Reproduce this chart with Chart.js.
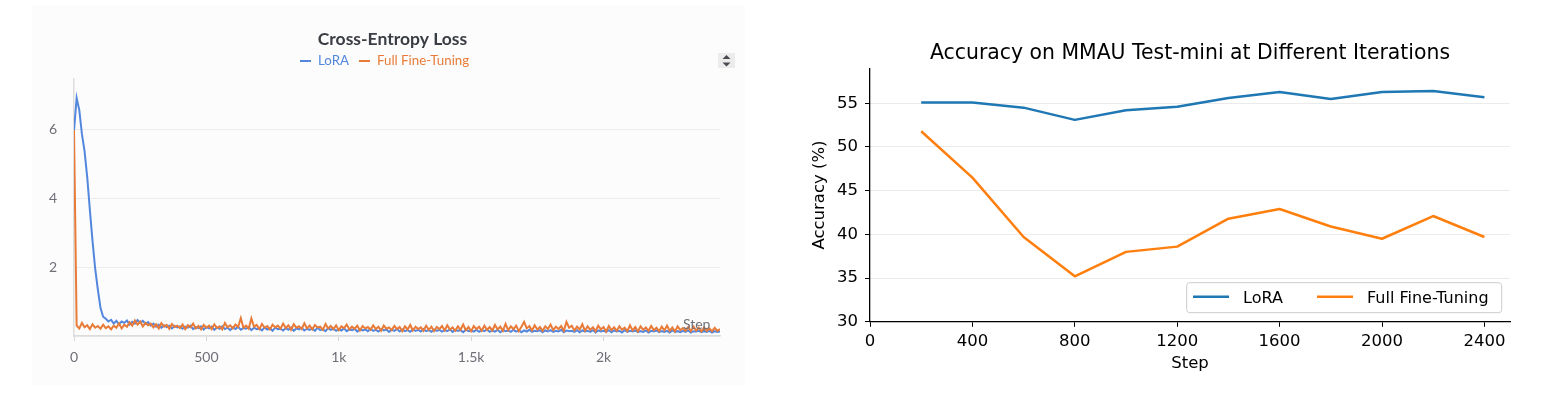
<!DOCTYPE html>
<html>
<head>
<meta charset="utf-8">
<script src="https://cdn.jsdelivr.net/npm/chart.js@4.4.1/dist/chart.umd.min.js"></script>
<style>
  html, body { margin: 0; padding: 0; background: #fff; }
  body { width: 1550px; height: 395px; position: relative; overflow: hidden; }
  #lossWrap { position: absolute; left: 32px; top: 5px; width: 713px; height: 380px; background: #fcfcfc; }
  #accWrap { position: absolute; left: 790px; top: 0; width: 760px; height: 395px; }
</style>
</head>
<body>
<div id="lossWrap"><canvas id="lossChart" width="713" height="380"></canvas></div>
<div id="accWrap"><canvas id="accChart" width="760" height="395"></canvas></div>
<script>
// ---- left panel: cross-entropy loss (one logged value every 10 steps) ----
var lossEvery = 10;
var lossTicks = [0, 500, 1000, 1500, 2000];
var lossLabels = ["0", "500", "1k", "1.5k", "2k"];
var lossColors = ["#5387dd", "#e87b38"];

var loraLoss = [
  5.95, 6.9, 6.55, 5.85, 5.35, 4.6, 3.65, 2.75, 1.95, 1.35,
  0.82, 0.56, 0.5, 0.42, 0.47, 0.36, 0.44, 0.34, 0.42, 0.38,
  0.45, 0.33, 0.41, 0.36, 0.46, 0.38, 0.44, 0.35, 0.4, 0.3,
  0.36, 0.27, 0.33, 0.24, 0.31, 0.26, 0.3, 0.22, 0.29, 0.25,
  0.28, 0.21, 0.27, 0.24, 0.3, 0.2, 0.26, 0.23, 0.28, 0.19,
  0.26, 0.22, 0.27, 0.18, 0.25, 0.21, 0.28, 0.2, 0.24, 0.17,
  0.25, 0.2, 0.27, 0.18, 0.23, 0.21, 0.26, 0.17, 0.24, 0.2,
  0.22, 0.16, 0.25, 0.19, 0.23, 0.15, 0.24, 0.2, 0.21, 0.16,
  0.23, 0.18, 0.25, 0.15, 0.22, 0.19, 0.24, 0.16, 0.21, 0.18,
  0.22, 0.15, 0.24, 0.17, 0.2, 0.14, 0.23, 0.18, 0.21, 0.15,
  0.2, 0.16, 0.22, 0.14, 0.19, 0.17, 0.21, 0.13, 0.2, 0.16,
  0.19, 0.14, 0.21, 0.15, 0.18, 0.13, 0.2, 0.16, 0.19, 0.12,
  0.18, 0.15, 0.2, 0.13, 0.19, 0.14, 0.17, 0.12, 0.19, 0.15,
  0.18, 0.13, 0.2, 0.14, 0.17, 0.12, 0.19, 0.15, 0.18, 0.13,
  0.17, 0.14, 0.19, 0.12, 0.18, 0.15, 0.17, 0.11, 0.19, 0.14,
  0.16, 0.13, 0.18, 0.12, 0.17, 0.14, 0.19, 0.12, 0.16, 0.13,
  0.18, 0.11, 0.17, 0.14, 0.16, 0.12, 0.18, 0.13, 0.17, 0.11,
  0.16, 0.13, 0.18, 0.12, 0.15, 0.14, 0.17, 0.11, 0.16, 0.13,
  0.17, 0.12, 0.15, 0.13, 0.18, 0.11, 0.16, 0.14, 0.15, 0.12,
  0.17, 0.11, 0.16, 0.13, 0.15, 0.12, 0.17, 0.1, 0.16, 0.13,
  0.15, 0.12, 0.17, 0.11, 0.16, 0.13, 0.15, 0.1, 0.17, 0.12,
  0.15, 0.13, 0.16, 0.11, 0.14, 0.12, 0.16, 0.1, 0.15, 0.13,
  0.16, 0.11, 0.14, 0.12, 0.15, 0.1, 0.16, 0.12, 0.14, 0.11,
  0.15, 0.12, 0.16, 0.1, 0.14, 0.13, 0.15, 0.11, 0.14, 0.12,
  0.15, 0.1, 0.14, 0.12, 0.13
];

var fullLoss = [
  5.97, 0.3, 0.22, 0.38, 0.25, 0.31, 0.2, 0.34, 0.24, 0.29,
  0.21, 0.33, 0.23, 0.28, 0.19, 0.3, 0.24, 0.36, 0.22, 0.33,
  0.27, 0.4, 0.3, 0.45, 0.33, 0.42, 0.28, 0.38, 0.31, 0.36,
  0.25, 0.34, 0.22, 0.37, 0.27, 0.32, 0.21, 0.35, 0.26, 0.3,
  0.23, 0.33, 0.2, 0.31, 0.25, 0.36, 0.22, 0.29, 0.19, 0.32,
  0.24, 0.3, 0.2, 0.34, 0.23, 0.28, 0.19, 0.38, 0.25, 0.31,
  0.22, 0.33, 0.26, 0.52, 0.24, 0.3, 0.21, 0.51, 0.27, 0.32,
  0.2, 0.35, 0.24, 0.29, 0.19, 0.33, 0.25, 0.3, 0.21, 0.36,
  0.23, 0.31, 0.18, 0.34, 0.24, 0.28, 0.2, 0.37, 0.22, 0.3,
  0.19, 0.32, 0.25, 0.27, 0.18, 0.35, 0.22, 0.29, 0.2, 0.31,
  0.17, 0.28, 0.23, 0.33, 0.19, 0.27, 0.21, 0.3, 0.16, 0.29,
  0.22, 0.26, 0.18, 0.31, 0.2, 0.27, 0.15, 0.3, 0.21, 0.25,
  0.17, 0.29, 0.2, 0.26, 0.14, 0.28, 0.19, 0.32, 0.16, 0.27,
  0.2, 0.25, 0.15, 0.3, 0.18, 0.27, 0.14, 0.26, 0.2, 0.29,
  0.16, 0.31, 0.19, 0.25, 0.15, 0.28, 0.18, 0.33, 0.17, 0.26,
  0.14, 0.29, 0.2, 0.27, 0.15, 0.3, 0.18, 0.26, 0.16, 0.32,
  0.19, 0.27, 0.15, 0.35, 0.17, 0.28, 0.2, 0.3, 0.14, 0.27,
  0.41, 0.22, 0.29, 0.16, 0.31, 0.19, 0.26, 0.15, 0.28, 0.2,
  0.33, 0.17, 0.27, 0.2, 0.29, 0.15, 0.41, 0.24, 0.3, 0.16,
  0.27, 0.19, 0.34, 0.15, 0.28, 0.18, 0.25, 0.14, 0.3, 0.19,
  0.26, 0.13, 0.29, 0.17, 0.25, 0.15, 0.28, 0.18, 0.24, 0.14,
  0.31, 0.16, 0.26, 0.13, 0.28, 0.18, 0.25, 0.15, 0.29, 0.17,
  0.24, 0.14, 0.27, 0.16, 0.3, 0.15, 0.25, 0.13, 0.28, 0.17,
  0.23, 0.15, 0.26, 0.14, 0.27, 0.16, 0.24, 0.13, 0.25, 0.15,
  0.22, 0.14, 0.24, 0.15, 0.2
];

// ---- right panel: accuracy on MMAU test-mini ----
var accSteps = [200, 400, 600, 800, 1000, 1200, 1400, 1600, 1800, 2000, 2200, 2400];
var loraAcc = [55.1, 55.1, 54.5, 53.1, 54.2, 54.6, 55.6, 56.3, 55.5, 56.3, 56.4, 55.7];
var fullAcc = [51.8, 46.5, 39.7, 35.2, 38.0, 38.6, 41.8, 42.9, 40.9, 39.5, 42.1, 39.7];
var accXTicks = [0, 400, 800, 1200, 1600, 2000, 2400];
var accYTicks = [30, 35, 40, 45, 50, 55];
var accColors = ["#1f77b4", "#ff7f0e"];

function lossPoints(values) {
  return values.map(function (v, i) { return { x: i * lossEvery, y: v }; });
}

function accPoints(values) {
  return values.map(function (v, i) { return { x: accSteps[i], y: v }; });
}

function fixedTicks(list) {
  return function (scale) {
    scale.ticks = list.map(function (v) { return { value: v }; });
  };
}

var wbFont = 'Lato';
var wbGray = '#6f6f78';

// title, legend, "Step" tag and the little sort icon of the W&B panel
var lossDecor = {
  id: 'lossDecor',
  afterDraw: function (chart) {
    var ctx = chart.ctx;
    ctx.save();
    ctx.textBaseline = 'alphabetic';
    ctx.textAlign = 'center';
    ctx.fillStyle = '#3b3d45';
    ctx.font = 'bold 17.5px ' + wbFont;
    ctx.fillText('Cross-Entropy Loss', 360.5, 39.5);

    ctx.font = '13.3px ' + wbFont;
    ctx.textAlign = 'left';
    var items = [[268, chart.data.datasets[0]], [327, chart.data.datasets[1]]];
    items.forEach(function (it) {
      ctx.strokeStyle = it[1].borderColor;
      ctx.lineWidth = 2;
      ctx.beginPath();
      ctx.moveTo(it[0], 56);
      ctx.lineTo(it[0] + 11, 56);
      ctx.stroke();
      ctx.fillStyle = it[1].borderColor;
      ctx.fillText(it[1].label, it[0] + 18, 60);
    });

    ctx.fillStyle = wbGray;
    ctx.font = '14px ' + wbFont;
    ctx.textAlign = 'center';
    ctx.fillText('Step', 664.7, 323.5);

    ctx.fillStyle = '#ececec';
    ctx.fillRect(686, 48, 17, 15);
    ctx.fillStyle = '#4a4a52';
    ctx.beginPath();
    ctx.moveTo(690.5, 54); ctx.lineTo(698.5, 54); ctx.lineTo(694.5, 50); ctx.closePath();
    ctx.moveTo(690.5, 57.5); ctx.lineTo(698.5, 57.5); ctx.lineTo(694.5, 61.5); ctx.closePath();
    ctx.fill();
    ctx.restore();
  }
};

new Chart(document.getElementById('lossChart'), {
  type: 'line',
  data: {
    datasets: [
      { label: 'LoRA', data: lossPoints(loraLoss), borderColor: lossColors[0], borderWidth: 2, pointRadius: 0, order: 2 },
      { label: 'Full Fine-Tuning', data: lossPoints(fullLoss), borderColor: lossColors[1], borderWidth: 2, pointRadius: 0, order: 1 }
    ]
  },
  options: {
    animation: false,
    responsive: false,
    layout: { padding: { top: 74, right: 25, left: 0, bottom: 0 } },
    plugins: { legend: { display: false }, title: { display: false }, tooltip: { enabled: false } },
    scales: {
      x: {
        type: 'linear', min: 0, max: 2440,
        afterBuildTicks: fixedTicks(lossTicks),
        afterFit: function (s) { s.height = 49; },
        grid: { drawOnChartArea: false, tickLength: 5, tickColor: '#d6d6d6' },
        border: { color: '#dcdcdc', width: 1.5 },
        ticks: {
          padding: 8, color: wbGray,
          font: { family: wbFont, size: 14 },
          callback: function (v) { return lossLabels[lossTicks.indexOf(v)]; }
        }
      },
      y: {
        min: 0, max: 7.45,
        afterFit: function (s) { s.width = 42; },
        grid: { color: '#ececec', drawTicks: false },
        border: { color: '#dddddd', width: 1.5 },
        ticks: {
          stepSize: 2, includeBounds: false, padding: 17, color: wbGray,
          font: { family: wbFont, size: 14 },
          callback: function (v) { return v === 0 ? '' : v; }
        }
      }
    }
  },
  plugins: [lossDecor]
});

// matplotlib-style title and legend box
var accDecor = {
  id: 'accDecor',
  afterDraw: function (chart) {
    var ctx = chart.ctx;
    var area = chart.chartArea;
    ctx.save();
    ctx.fillStyle = '#000';
    ctx.font = '20.4px "DejaVu Sans"';
    ctx.textAlign = 'center';
    ctx.textBaseline = 'alphabetic';
    ctx.fillText('Accuracy on MMAU Test-mini at Different Iterations', (area.left + area.right) / 2, 59.3);

    // legend frame
    var bx = 396.7, by = 282.7, bw = 315, bh = 30, r = 3;
    ctx.beginPath();
    ctx.moveTo(bx + r, by);
    ctx.arcTo(bx + bw, by, bx + bw, by + bh, r);
    ctx.arcTo(bx + bw, by + bh, bx, by + bh, r);
    ctx.arcTo(bx, by + bh, bx, by, r);
    ctx.arcTo(bx, by, bx + bw, by, r);
    ctx.closePath();
    ctx.fillStyle = 'rgba(255,255,255,0.8)';
    ctx.fill();
    ctx.strokeStyle = '#cccccc';
    ctx.lineWidth = 1;
    ctx.stroke();

    ctx.font = '16px "DejaVu Sans"';
    ctx.textAlign = 'left';
    var items = [[403, chart.data.datasets[0]], [527, chart.data.datasets[1]]];
    items.forEach(function (it) {
      ctx.strokeStyle = it[1].borderColor;
      ctx.lineWidth = 2.5;
      ctx.beginPath();
      ctx.moveTo(it[0], 296.7);
      ctx.lineTo(it[0] + 36, 296.7);
      ctx.stroke();
      ctx.fillStyle = '#000';
      ctx.fillText(it[1].label, it[0] + 50, 303);
    });
    ctx.restore();
  }
};

var mplFont = { family: 'DejaVu Sans', size: 16.5 };

new Chart(document.getElementById('accChart'), {
  type: 'line',
  data: {
    datasets: [
      { label: 'LoRA', data: accPoints(loraAcc), borderColor: accColors[0], borderWidth: 2.5, pointRadius: 0, borderJoinStyle: 'round' },
      { label: 'Full Fine-Tuning', data: accPoints(fullAcc), borderColor: accColors[1], borderWidth: 2.5, pointRadius: 0, borderJoinStyle: 'round' }
    ]
  },
  options: {
    animation: false,
    responsive: false,
    layout: { padding: { top: 68.3, right: 40, left: 0, bottom: 0 } },
    plugins: { legend: { display: false }, title: { display: false }, tooltip: { enabled: false } },
    scales: {
      x: {
        type: 'linear', min: 0, max: 2500,
        afterBuildTicks: fixedTicks(accXTicks),
        afterFit: function (s) { s.height = 73.2; },
        grid: { drawOnChartArea: false, tickLength: 5, tickColor: '#000' },
        border: { color: '#000', width: 1.3 },
        ticks: { padding: 5, color: '#000', font: mplFont, callback: function (v) { return String(v); } },
        title: { display: true, text: 'Step', color: '#000', font: mplFont, padding: { top: 0, bottom: 21 } }
      },
      y: {
        min: 30, max: 59,
        afterBuildTicks: fixedTicks(accYTicks),
        afterFit: function (s) { s.width = 80; },
        grid: { color: '#ebebeb', tickLength: 5, tickColor: '#000' },
        border: { color: '#000', width: 1.3 },
        ticks: { padding: 7, color: '#000', font: mplFont },
        title: { display: true, text: 'Accuracy (%)', color: '#000', font: mplFont, padding: { top: 20, bottom: 0 } }
      }
    }
  },
  plugins: [accDecor]
});
</script>
</body>
</html>
